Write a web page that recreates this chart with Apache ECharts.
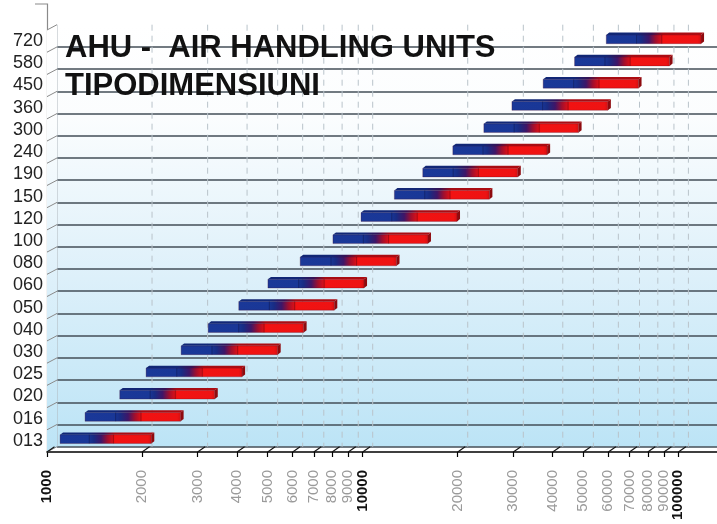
<!DOCTYPE html>
<html><head><meta charset="utf-8">
<script src="https://cdn.jsdelivr.net/npm/echarts@6/dist/echarts.min.js"></script>
<style>html,body{margin:0;padding:0;background:#fff}#c{width:717px;height:524px}</style>
</head><body><div id="c"></div>
<script>
// ---- data ----
const categories = ['013','016','020','025','030','040','050','060','080','100','120','150','190','240','300','360','450','580','720'];
const minAirflow = [1100,1320,1700,2060,2660,3240,4050,5010,6340,8050,9880,12600,15500,19300,24200,29700,37300,46900,59100];
const maxAirflow = [2140,2650,3400,4150,5380,6500,8130,10100,12800,16100,19900,25200,31000,38400,48300,59800,74800,93800,118000];
const tickValues = [1000,2000,3000,4000,5000,6000,7000,8000,9000,10000,20000,30000,40000,50000,60000,70000,80000,90000,100000];
const majorTicks = [1000,10000,100000];
const minorTicks = tickValues.filter(v => majorTicks.indexOf(v) < 0);
const titleLines = ['AHU -  AIR HANDLING UNITS','TIPODIMENSIUNI'];

// ---- styling ----
const FRONT_MAX = 132560, WALL_MAX = 123200;
const DX = 10, DY = -5.3;
const FONT = "'Liberation Sans', Arial, sans-serif";
const G = echarts.graphic;
const bgStops = [{offset:0,color:'#ffffff'},{offset:0.22,color:'#fbfdfe'},{offset:0.6,color:'#ddf0fa'},{offset:1,color:'#bce4f6'}];

const chart = echarts.init(document.getElementById('c'), null, {renderer:'canvas'});

function wallLines(params, api){
  const cs = params.coordSys;
  const v = api.value(0);
  const x = api.coord([v, 0])[0];
  const major = v === 1000;
  return {type:'line', silent:true,
    shape:{x1:x,y1:cs.y,x2:x,y2:cs.y+cs.height},
    style:{stroke: major ? '#b0b8be' : '#b9c3ca', lineWidth:1, lineDash: major ? null : [6,5]}};
}

function frame(params, api){
  const cs = params.coordSys;
  const i = api.value(1);
  const p = api.coord([1000, i]);
  const band = api.size([0, 1])[1];
  const x0 = cs.x;
  const yb = p[1] + band/2, yt = p[1] - band/2;
  const children = [];
  children.push({type:'polygon', silent:true, z2:0,
    shape:{points:[[x0,yb],[x0,yt],[x0+DX,yt+DY],[x0+DX,yb+DY]]},
    style:{fill: new G.LinearGradient(0, cs.y, 0, cs.y+cs.height, bgStops, true)}});
  children.push({type:'line', silent:true, z2:2, shape:{x1:x0,y1:yb,x2:x0+DX,y2:yb+DY}, style:{stroke:'#8a8a8a', lineWidth:1}});
  if (i === categories.length-1) {
    children.push({type:'line', silent:true, z2:2, shape:{x1:x0,y1:yt,x2:x0+DX,y2:yt+DY}, style:{stroke:'#8a8a8a', lineWidth:1}});
  }
  return {type:'group', children};
}

function xTicks(params, api){
  const cs = params.coordSys;
  const x = api.coord([api.value(0), 0])[0];
  const y = cs.y + cs.height;
  return {type:'line', silent:true, shape:{x1:x,y1:y,x2:x+DX*0.75,y2:y+DY}, style:{stroke:'#111', lineWidth:1.1}};
}

function bars(params, api){
  const i = api.value(0);
  const a = api.coord([api.value(1), i]);
  const b = api.coord([api.value(2), i]);
  const c = a[1];
  const x0 = a[0], x1 = b[0], w = x1 - x0;
  const yT = c - 6.2, yB = c + 2.6, dx = 3, dy = 2.3;
  const front = new G.LinearGradient(0,0,1,0,[
    {offset:0,color:'#1a3898'},{offset:0.31,color:'#193797'},{offset:0.37,color:'#182c84'},
    {offset:0.45,color:'#3e1668'},{offset:0.52,color:'#a00f2e'},{offset:0.585,color:'#de1016'},
    {offset:0.6,color:'#f21212'},{offset:0.96,color:'#ee1313'},{offset:1,color:'#d31012'}]);
  const top = new G.LinearGradient(0,0,1,0,[
    {offset:0,color:'#112674'},{offset:0.31,color:'#122877'},{offset:0.46,color:'#361255'},
    {offset:0.58,color:'#a50c14'},{offset:1,color:'#ad0c12'}]);
  return {type:'group', children:[
    {type:'rect', shape:{x:x0,y:yT,width:w,height:yB-yT}, style:{fill:front, stroke:'rgba(70,0,30,0.45)', lineWidth:0.6}},
    {type:'polygon', shape:{points:[[x0,yT],[x1,yT],[x1+dx,yT-dy],[x0+dx,yT-dy]]}, style:{fill:top}},
    {type:'polygon', shape:{points:[[x1,yT],[x1+dx,yT-dy],[x1+dx,yB-dy],[x1,yB]]}, style:{fill:'#8e0a0e'}},
    {type:'line', shape:{x1:x0+0.32*w,y1:yT,x2:x0+0.32*w,y2:yB}, style:{stroke:'rgba(10,10,50,0.45)', lineWidth:0.8}},
    {type:'line', shape:{x1:x0+0.585*w,y1:yT,x2:x0+0.585*w,y2:yB}, style:{stroke:'rgba(70,0,10,0.45)', lineWidth:0.8}}
  ]};
}

const labelAxis = (values, bold) => ({
  type:'log', gridIndex:1, min:1000, max:FRONT_MAX, position:'bottom', offset:0,
  axisLine:{show:false}, axisTick:{show:false}, splitLine:{show:false},
  axisLabel:{customValues:values, rotate:90, margin:18, fontFamily:FONT, fontSize:15,
    fontWeight: bold ? 'bold' : 'normal', color: bold ? '#111' : '#9a9a9a',
    showMinLabel:true, showMaxLabel:true, hideOverlap:false,
    formatter:(v)=> String(Math.round(v))}
});

const option = {
  animation:false,
  backgroundColor:'#ffffff',
  title:{text:titleLines.join('\n'), left:60, top:24, z:1,
    textStyle:{fontFamily:FONT, fontSize:31, fontWeight:'bold', color:'#111', lineHeight:38}},
  grid:[
    {left:57, right:0, top:24.7, bottom:77.3, show:true, borderWidth:0,
     backgroundColor:new G.LinearGradient(0,0,0,1,bgStops)},
    {left:47, right:0, top:30, bottom:72}
  ],
  xAxis:[
    {type:'log', gridIndex:0, min:1000, max:WALL_MAX, show:false},
    {type:'log', gridIndex:1, min:1000, max:FRONT_MAX, position:'bottom', offset:0,
     axisLine:{show:true, lineStyle:{color:'#000', width:1.5}},
     axisTick:{show:true, customValues:tickValues, length:5, lineStyle:{color:'#000', width:1.2}},
     axisLabel:{show:false},
     splitLine:{show:false}},
    labelAxis(minorTicks, false),
    labelAxis(majorTicks, true)
  ],
  yAxis:[
    {type:'category', gridIndex:0, data:categories,
     axisLine:{show:false}, axisTick:{show:false}, axisLabel:{show:false},
     splitLine:{show:true, interval:0, showMaxLine:false, lineStyle:{color:'#434e57', width:1.5}}},
    {type:'category', gridIndex:1, data:categories,
     axisLine:{show:true, lineStyle:{color:'#8a8a8a', width:1.2}},
     axisTick:{show:false},
     axisLabel:{fontFamily:FONT, fontSize:18, color:'#222', margin:4, interval:0, showMinLabel:true, showMaxLabel:true},
     splitLine:{show:false}}
  ],
  graphic:[
    {type:'polyline', silent:true, shape:{points:[[35,4],[47.5,4],[47.5,30]]}, style:{stroke:'#8a8a8a', lineWidth:1.2, fill:null}}
  ],
  series:[
    {type:'custom', name:'wall', xAxisIndex:0, yAxisIndex:0, renderItem:wallLines,
     data:tickValues.map(v=>[v, 0]), encode:{x:0, y:1}, z:1, silent:true},
    {type:'custom', name:'frame', xAxisIndex:1, yAxisIndex:1, renderItem:frame,
     data:categories.map((c,i)=>[1000, i]), encode:{x:0, y:1}, z:1, silent:true},
    {type:'custom', name:'ticks', xAxisIndex:1, yAxisIndex:1, renderItem:xTicks,
     data:tickValues.map(v=>[v, 0]), encode:{x:0, y:1}, z:3, silent:true},
    {type:'custom', name:'bars', xAxisIndex:1, yAxisIndex:1, renderItem:bars,
     data:categories.map((c,i)=>[i, minAirflow[i], maxAirflow[i]]), encode:{x:[1,2], y:0}, z:5}
  ]
};
chart.setOption(option);
</script>
</body></html>
